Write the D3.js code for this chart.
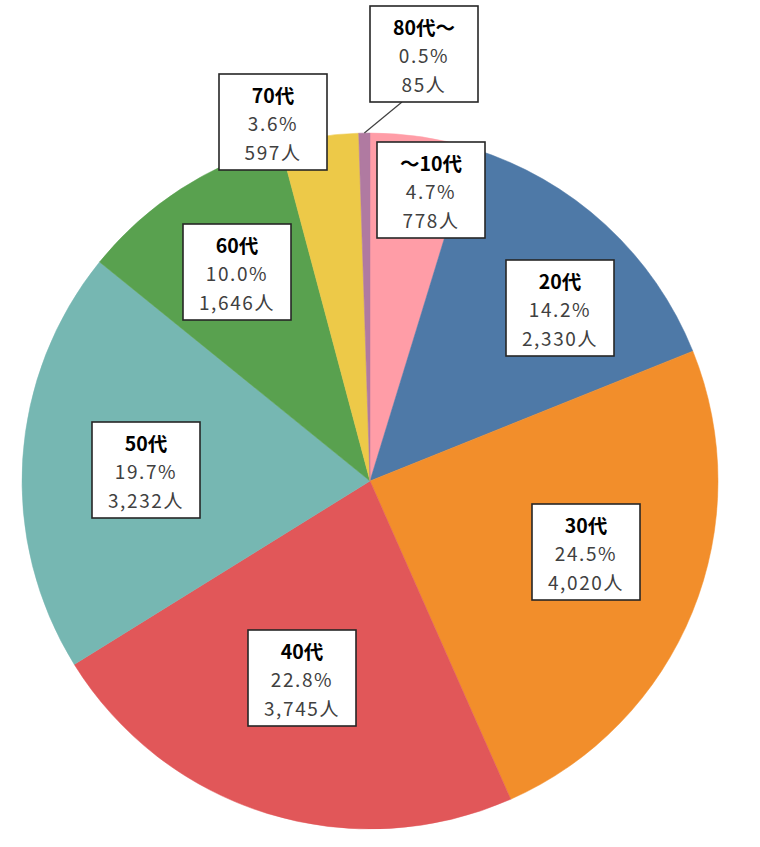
<!DOCTYPE html>
<html><head><meta charset="utf-8">
<script src="https://cdn.jsdelivr.net/npm/d3@7"></script>
<style>
html,body{margin:0;padding:0;background:#fff;}
svg{display:block;}
</style></head>
<body>
<svg id="chart" width="760" height="847"></svg>
<script>
const categories = ["～10代","20代","30代","40代","50代","60代","70代","80代～"];
const counts = [778, 2330, 4020, 3745, 3232, 1646, 597, 85];
const percents = ["4.7%","14.2%","24.5%","22.8%","19.7%","10.0%","3.6%","0.5%"];
const colors = ["#FF9DA7","#4E79A7","#F28E2B","#E15759","#76B7B2","#59A14F","#EDC948","#B07AA1"];
// label box centers (layout)
const labelCenters = [[431,190],[560,308],[586,552],[302,678],[146,470],[237,272],[273,122],[424,54]];

const svg = d3.select("#chart");
const cx = 370, cy = 481, R = 348;
const g = svg.append("g").attr("transform", `translate(${cx},${cy})`);

const pie = d3.pie().sort(null).value(d => d.v);
const data = categories.map((c,i)=>({c, v:counts[i], p:percents[i], col:colors[i], i}));
const arcs = pie(data);
const arc = d3.arc().innerRadius(0).outerRadius(R);

g.selectAll("path.slice").data(arcs).enter().append("path")
  .attr("class","slice")
  .attr("d", arc)
  .attr("fill", d => d.data.col)
  .attr("stroke", d => d.data.col)
  .attr("stroke-width", 0.5);

const fmt = d3.format(",");
const boxW = 108, boxH = 96;

// leader line for the label outside the pie
arcs.forEach((a, i) => {
  const [lx, ly] = labelCenters[i];
  const dx = lx - cx, dy = ly - cy;
  if (Math.sqrt(dx*dx+dy*dy) > R && i === arcs.length-1) {
    const mid = (a.startAngle + a.endAngle)/2;
    const px = cx + Math.sin(mid)*R, py = cy - Math.cos(mid)*R;
    svg.append("line")
      .attr("x1", px).attr("y1", py)
      .attr("x2", lx - 22).attr("y2", ly + boxH/2)
      .attr("stroke", "#404040").attr("stroke-width", 1.2);
  }
});

const lg = svg.selectAll("g.lbl").data(arcs).enter().append("g")
  .attr("class","lbl")
  .attr("transform", (d,i) => `translate(${labelCenters[i][0]},${labelCenters[i][1]})`);

lg.append("rect")
  .attr("x", -boxW/2).attr("y", -boxH/2)
  .attr("width", boxW).attr("height", boxH)
  .attr("fill", "#fff").attr("stroke", "#262626").attr("stroke-width", 1.6);

const font = "'Noto Sans CJK JP', 'Noto Sans', sans-serif";
lg.append("text")
  .attr("y", -28).attr("text-anchor","middle").attr("dominant-baseline","central")
  .attr("font-family", font).attr("font-size", 19.5).attr("font-weight", "bold")
  .attr("fill", "#000")
  .text(d => d.data.c);
lg.append("text")
  .attr("y", 0.5).attr("text-anchor","middle").attr("dominant-baseline","central")
  .attr("font-family", font).attr("font-size", 19).attr("letter-spacing", 1.6)
  .attr("fill", "#404040")
  .text(d => d.data.p);
lg.append("text")
  .attr("y", 29).attr("text-anchor","middle").attr("dominant-baseline","central")
  .attr("font-family", font).attr("font-size", 19).attr("letter-spacing", 1.6)
  .attr("fill", "#404040")
  .text(d => fmt(d.data.v) + "人");
</script>
</body></html>
